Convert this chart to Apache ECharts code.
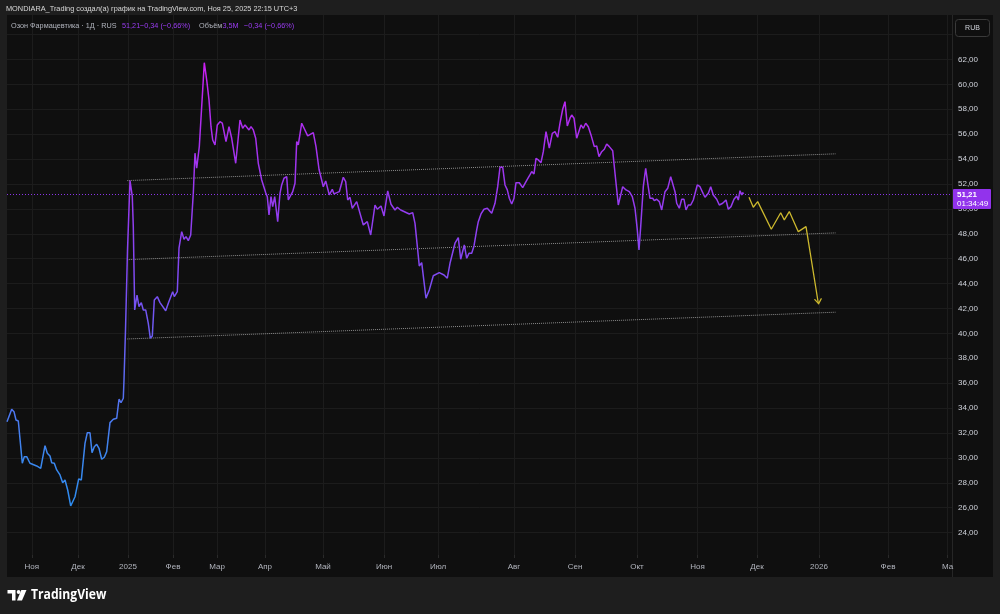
<!DOCTYPE html>
<html><head><meta charset="utf-8">
<script src="https://cdn.jsdelivr.net/npm/echarts@6/dist/echarts.min.js"></script>
<style>
html,body{margin:0;padding:0;background:#1e1e1e;overflow:hidden;}
#pane{position:absolute;left:7px;top:15px;width:986px;height:562px;background:#0f0f0f;}
#sep{position:absolute;left:952px;top:15px;width:1px;height:562px;background:#262626;}
#c{position:absolute;left:0;top:0;width:1000px;height:614px;}
</style>
</head><body>
<div id="pane"></div><div id="sep"></div>
<div id="c"></div>
<script>
// ---- data ----
const monthTickIdx = [9.9, 28.4, 48.4, 66.4, 84, 103.2, 126.4, 150.8, 172.4, 202.8, 227.2, 252, 276.2, 300, 324.8, 352.4, 376.2];
const monthLabels = ['Ноя','Дек','2025','Фев','Мар','Апр','Май','Июн','Июл','Авг','Сен','Окт','Ноя','Дек','2026','Фев','Ма'];
const priceTicks = [24,26,28,30,32,34,36,38,40,42,44,46,48,50,52,54,56,58,60,62];
const gridPrices = [24,26,28,30,32,34,36,38,40,42,44,46,48,50,52,54,56,58,60,62,64];
const lastPrice = 51.21;
// [bar index, close]
const priceSeries = [
[0,32.91],[1.88,33.90],[2.8,33.71],[3.6,33.04],[4.52,32.96],[6.12,29.57],[6.92,30.10],[7.88,30.10],[9.2,29.57],[11.88,29.35],
[13.48,29.16],[15.2,30.98],[16.12,30.37],[17.2,30.15],[17.88,29.61],[18.92,29.57],[19.88,29.03],[21.2,28.63],[22.28,28.01],[23.2,28.22],
[24.28,27.42],[25.48,26.14],[26.28,26.22],[27.2,26.88],[28.68,28.31],[29.72,28.22],[31.2,31.17],[32.12,32.02],[33.2,32.02],[34,30.42],
[34.92,30.90],[35.88,31.09],[36.8,30.77],[37.88,29.89],[38.92,30.05],[39.88,30.50],[41.2,32.83],[42.52,33.10],[43.88,33.18],[44.8,34.71],
[45.6,34.43],[46.52,34.79],[46.8,36.26],[47.4,40.27],[48.2,46.70],[49.2,52.27],[50.12,50.98],[50.52,48.57],[51.08,41.88],[52,43.08],
[52.8,42.14],[53.72,42.47],[54.52,41.88],[55.48,41.88],[56.52,40.81],[57.32,39.61],[58.12,39.79],[58.92,42.68],[60.12,42.95],[61.2,42.47],
[63.48,41.82],[64.52,42.42],[65.2,42.47],[66.28,43.35],[66.92,42.95],[68.12,43.35],[68.8,46.84],[69.88,48.17],[70.8,47.56],[71.6,47.77],
[72.52,47.45],[73.48,47.90],[74.52,51.25],[75.2,54.47],[75.88,53.26],[76.92,55.00],[78.92,61.74],[79.88,60.35],[80.8,58.75],[81.6,56.60],
[82.28,55.53],[83.2,55.13],[84.12,56.74],[85.2,57.00],[86.12,56.88],[87.6,55.40],[88.8,56.60],[89.88,55.67],[91.48,53.66],[93.2,57.14],
[94.28,56.47],[95.2,56.74],[95.88,56.74],[96.8,56.34],[97.6,56.60],[98.52,56.34],[99.48,55.67],[100.52,53.66],[101.88,52.32],[103.48,51.30],
[104.12,50.98],[104.8,49.51],[105.6,50.98],[106.28,50.18],[107.08,50.98],[108.28,48.97],[109.2,51.25],[109.88,51.92],[110.8,52.46],[111.88,52.59],
[112.52,50.71],[113.2,50.85],[114.28,51.38],[115.2,52.06],[115.88,55.40],[116.52,55.13],[117.88,56.88],[118.52,56.88],[120.28,55.86],[122.52,56.12],
[123.6,55.00],[124.8,53.18],[125.48,53.07],[126.52,51.78],[127.48,52.24],[128.28,52.18],[128.92,51.12],[130.12,51.57],[130.8,51.20],[132.92,51.38],
[134.52,52.54],[135.48,52.18],[136.28,50.71],[137.2,50.93],[138.12,50.05],[139.88,50.58],[142.52,48.71],[144.12,48.97],[145.48,47.90],[147.2,50.31],
[148.12,49.97],[149.6,50.23],[150.8,49.43],[152.28,51.44],[153.6,50.37],[155.2,49.91],[156.12,50.13],[157.48,49.91],[160.92,49.59],[162.28,49.70],
[163.2,48.84],[164.92,45.41],[165.88,45.68],[167.6,42.82],[168.92,43.49],[170.52,44.63],[172.92,44.88],[174.8,44.69],[176.12,44.43],[177.2,45.63],
[179.2,47.24],[180.52,47.69],[181.48,45.95],[182.28,45.82],[182.92,47.10],[183.88,46.03],[184.8,46.43],[185.88,46.43],[186.8,47.02],[187.88,48.31],
[188.52,48.97],[189.6,49.59],[190.8,49.97],[192.12,50.05],[192.92,49.91],[193.88,49.65],[195.2,50.45],[196.28,51.78],[197.2,53.34],[198.28,53.34],
[199.2,51.92],[200.12,51.52],[200.92,50.85],[201.88,50.39],[202.8,50.85],[203.6,52.10],[204.92,52.10],[206.28,51.70],[207.6,52.18],[208.92,52.64],
[209.88,52.99],[210.8,52.80],[211.6,54.06],[212.52,53.93],[213.6,53.71],[214.52,54.59],[215.6,56.20],[216.12,56.34],[216.92,54.87],[218.12,56.07],
[219.2,56.20],[220.28,55.75],[221.2,56.88],[222.28,58.00],[223.2,58.61],[224.12,56.66],[225.2,57.28],[225.88,57.54],[226.8,57.28],[227.88,55.67],
[228.52,55.80],[229.6,56.74],[230.52,56.47],[231.48,56.88],[232.52,56.60],[233.6,55.94],[234.92,55.00],[235.88,55.05],[236.8,54.19],[237.88,54.59],
[238.92,54.79],[239.88,55.21],[240.92,55.00],[242.28,54.67],[243.2,52.86],[244.52,50.31],[246.28,51.78],[247.6,51.52],[248.92,51.38],[250.12,50.98],
[251.2,50.05],[252.12,48.31],[252.8,46.70],[253.48,48.57],[254.52,51.78],[255.48,53.26],[256.28,52.06],[257.2,50.85],[258.28,50.85],[258.92,50.66],
[259.88,50.77],[260.92,50.58],[261.88,49.91],[262.52,49.83],[263.2,51.38],[264.28,51.65],[265.48,52.59],[266.28,52.54],[267.2,51.38],[267.88,50.45],
[268.92,50.05],[269.88,50.77],[270.8,50.77],[271.6,49.91],[272.52,50.31],[273.48,50.31],[274.52,50.71],[276.12,51.92],[277.2,51.78],[278.52,51.20],
[279.2,50.93],[280.52,51.25],[281.48,51.78],[282.52,51.12],[283.88,50.77],[284.92,50.31],[286.28,50.45],[287.6,50.71],[288.52,49.97],[289.6,50.18],
[290.8,50.77],[291.88,51.04],[292.52,50.71],[293.2,51.46],[293.88,51.12],[294.28,51.30],[294.68,51.21]
];
// drawn projection (yellow)
const projIdx = [296.8, 298.52, 300.28, 305.72, 309.48, 310.92, 312.92, 316.52, 319.6, 324.52];
const projVal = [50.93, 50.13, 50.58, 48.36, 49.69, 49.11, 49.78, 48.17, 48.57, 42.42];
// parallel channel
const channelIdx = [48.1, 331.4];
const channelTop = [52.27, 54.42];
const channelMid = [45.92, 48.07];
const channelBot = [39.55, 41.70];

// ---- chart ----
const FONT = '"Liberation Sans", Arial, sans-serif';
const PURPLE = '#9a3cf2';
const chart = echarts.init(document.getElementById('c'), null, {renderer: 'canvas'});

function monthLabel(v) {
  for (let k = 0; k < monthTickIdx.length; k++) {
    if (Math.abs(monthTickIdx[k] - v) < 1e-6) return monthLabels[k];
  }
  return '';
}
const projData = projIdx.map((x, k) => {
  if (k === projIdx.length - 1) {
    return {
      value: [x, projVal[k]],
      symbol: 'path://M0,0 L5,6 L10,0',
      symbolSize: [7, 5],
      symbolOffset: [0, -2],
      symbolRotate: 8,
      itemStyle: {color: 'rgba(0,0,0,0)', borderColor: '#cdb92e', borderWidth: 1.2}
    };
  }
  return [x, projVal[k]];
});
function chan(vals) {
  return {
    type: 'line', data: channelIdx.map((x, k) => [x, vals[k]]),
    showSymbol: false, symbol: 'none', silent: true, z: 1,
    lineStyle: {color: '#8c8c8c', width: 1, type: [1, 1]}
  };
}
function txt(x, y, text, fill, extra) {
  return Object.assign({type: 'text', x: x, y: y, z: 100, scaleX: 0.91,
    style: {text: text, fill: fill, fontSize: 8, fontFamily: FONT, textVerticalAlign: 'middle'}}, extra || {});
}

const option = {
  backgroundColor: 'transparent',
  animation: false,
  grid: {left: 7, right: 48, top: 15, bottom: 59, containLabel: false},
  xAxis: {
    type: 'value', min: 0, max: 378,
    axisLine: {show: false},
    axisTick: {show: true, length: 3, lineStyle: {color: '#2a2a2a'}, customValues: monthTickIdx},
    axisLabel: {customValues: monthTickIdx, formatter: monthLabel, color: '#b2b5be', fontSize: 8, margin: 8, fontFamily: FONT},
    splitLine: {show: true, lineStyle: {color: '#1c1c1c', width: 1}}
  },
  yAxis: {
    type: 'value', position: 'right', min: 22.2, max: 65.57,
    axisLine: {show: false},
    axisTick: {show: false, customValues: gridPrices},
    axisLabel: {customValues: priceTicks, formatter: v => v.toFixed(2).replace('.', ','), color: '#d1d4dc', fontSize: 8, margin: 6, fontFamily: FONT},
    splitLine: {show: true, lineStyle: {color: '#1c1c1c', width: 1}}
  },
  visualMap: {
    type: 'continuous', show: false, seriesIndex: 0, dimension: 1, min: 26, max: 62,
    inRange: {color: ['#2d8cf0', '#3d86ee', '#5570f0', '#6a5ef2', '#7d4cf2', '#8f3ff0', '#9e36ee', '#b02cee', '#cc1ef0']}
  },
  series: [
    {
      type: 'line', data: priceSeries, showSymbol: false, symbol: 'none', z: 3,
      lineStyle: {width: 1.5},
      markLine: {
        silent: true, symbol: ['none', 'none'], label: {show: false},
        lineStyle: {color: '#8a35e6', width: 1, type: [1, 2]},
        data: [{yAxis: lastPrice}]
      }
    },
    {
      type: 'line', data: projData, symbol: 'none', showSymbol: true, z: 3,
      lineStyle: {color: '#cdb92e', width: 1.3}
    },
    chan(channelTop), chan(channelMid), chan(channelBot)
  ],
  graphic: [
    txt(6, 9, 'MONDIARA_Trading создал(а) график на TradingView.com, Ноя 25, 2025 22:15 UTC+3', '#d9d9d9', {scaleX: 0.918}),
    txt(11, 26, 'Озон Фармацевтика · 1Д · RUS', '#b2b5be'),
    txt(122, 26, '51,21', PURPLE),
    txt(140, 26, '−0,34 (−0,66%)', PURPLE),
    txt(199, 26, 'Объём', '#b2b5be'),
    txt(222.5, 26, '3,5M', PURPLE),
    txt(244, 26, '−0,34 (−0,66%)', PURPLE),
    // currency button
    {type: 'rect', z: 100, shape: {x: 955.5, y: 19.5, width: 34, height: 17, r: 3}, style: {fill: '#0f0f0f', stroke: '#3a3a3a', lineWidth: 1}},
    {type: 'text', x: 972.5, y: 28, z: 101, style: {text: 'RUB', fill: '#d1d4dc', fontSize: 7, fontFamily: FONT, textAlign: 'center', textVerticalAlign: 'middle'}},
    // last price label
    {type: 'rect', z: 100, shape: {x: 953, y: 189, width: 38, height: 20, r: 1}, style: {fill: '#9233ec'}},
    {type: 'text', x: 957, y: 194.5, z: 101, style: {text: '51,21', fill: '#ffffff', fontSize: 8, fontWeight: 'bold', fontFamily: FONT, textVerticalAlign: 'middle'}},
    {type: 'text', x: 957, y: 203.5, z: 101, style: {text: '01:34:49', fill: '#ffffff', fontSize: 8, fontFamily: FONT, textVerticalAlign: 'middle'}},
    // TradingView logo
    {type: 'polygon', z: 100, shape: {points: [[7.5, 590], [15.5, 590], [15.5, 600.5], [12, 600.5], [12, 593.5], [7.5, 593.5]]}, style: {fill: '#ffffff'}},
    {type: 'circle', z: 100, shape: {cx: 18.6, cy: 592, r: 1.9}, style: {fill: '#ffffff'}},
    {type: 'polygon', z: 100, shape: {points: [[21.3, 590], [26.5, 590], [22, 600.5], [17, 600.5]]}, style: {fill: '#ffffff'}},
    {type: 'text', x: 31, y: 595.5, z: 100, scaleX: 0.9, style: {text: 'TradingView', fill: '#ffffff', fontSize: 13.5, fontWeight: 'bold', fontFamily: '"Open Sans", "Liberation Sans", sans-serif', textVerticalAlign: 'middle'}}
  ]
};
chart.setOption(option);
</script>
</body></html>
